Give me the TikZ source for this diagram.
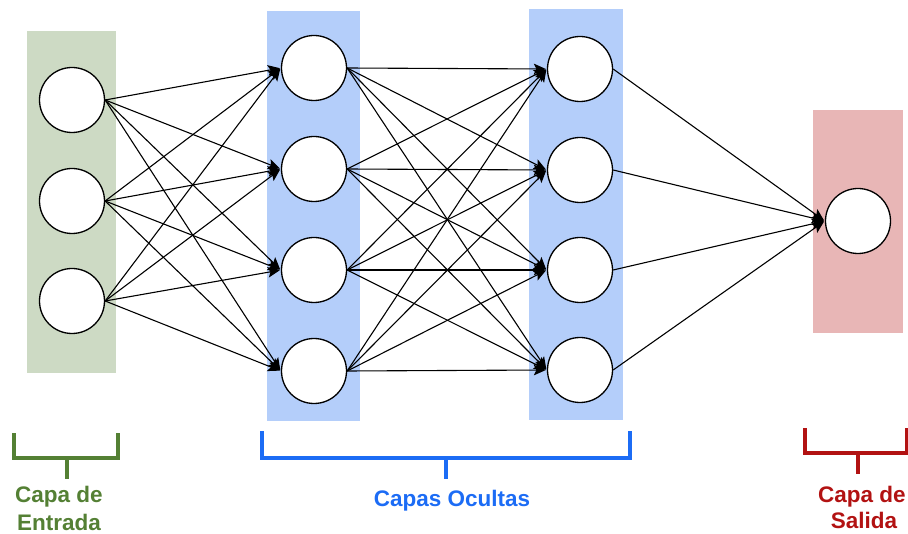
\documentclass[tikz,border=0pt]{standalone}
\usepackage{fontspec}
\setmainfont{Liberation Sans}
\usetikzlibrary{arrows.meta}
\definecolor{ingreen}{RGB}{205,218,196}
\definecolor{hidblue}{RGB}{180,206,250}
\definecolor{outred}{RGB}{232,182,182}
\definecolor{brgreen}{RGB}{84,128,52}
\definecolor{brblue}{RGB}{28,108,245}
\definecolor{brred}{RGB}{178,18,18}
\tikzset{
  neuron/.style={circle,draw=black,fill=white,line width=1.3pt,minimum size=65pt,inner sep=0pt},
  conn/.style={line width=1.1pt,shorten >=1pt,-{Stealth[length=12pt,width=10.5pt,inset=2.5pt]}},
  bracket/.style={line width=3.5pt,line cap=rect},
  lbl/.style={font=\fontsize{22.5}{26}\selectfont\bfseries,anchor=base,inner sep=0pt}
}
\begin{document}
\begin{tikzpicture}[x=1pt,y=-1pt]
\useasboundingbox (0,0) rectangle (908,534);
% layer backgrounds
\fill[ingreen] (27,31) rectangle (116,373);
\fill[hidblue] (267,11) rectangle (360,421);
\fill[hidblue] (529,9) rectangle (623,420);
\fill[outred] (813,110) rectangle (903,333);
% neurons
\node[neuron] (i1) at (72,100) {};
\node[neuron] (i2) at (72,201) {};
\node[neuron] (i3) at (72,301) {};
\node[neuron] (h1) at (314,68) {};
\node[neuron] (h2) at (314,169) {};
\node[neuron] (h3) at (314,270) {};
\node[neuron] (h4) at (314,371) {};
\node[neuron] (g1) at (580,69) {};
\node[neuron] (g2) at (580,170) {};
\node[neuron] (g3) at (580,270) {};
\node[neuron] (g4) at (580,370) {};
\node[neuron] (o1) at (858,221) {};
% connections
\foreach \a in {i1,i2,i3}{\foreach \b in {h1,h2,h3,h4}{\draw[conn] (\a.east) -- (\b.west);}}
\foreach \a in {h1,h2,h3,h4}{\foreach \b in {g1,g2,g3,g4}{\draw[conn] (\a.east) -- (\b.west);}}
\foreach \a in {g1,g2,g3,g4}{\draw[conn] (\a.east) -- (o1.west);}
% brackets
\draw[bracket,brgreen] (14,435) -- (14,458) -- (118,458) -- (118,435);
\draw[bracket,brgreen] (67,458) -- (67,477);
\draw[bracket,brblue] (262,433) -- (262,458) -- (630,458) -- (630,433);
\draw[bracket,brblue] (446,458) -- (446,477);
\draw[bracket,brred] (805,430) -- (805,453) -- (907,453) -- (907,430);
\draw[bracket,brred] (858,453) -- (858,472);
% labels
\node[lbl,text=brgreen] (t1) at (59,502) {Capa de};
\node[lbl,text=brgreen] (t2) at (59,530) {Entrada};
\node[lbl,text=brblue] (t3) at (452,507) {Capas Ocultas};
\node[lbl,text=brred] (t4) at (862,502) {Capa de};
\node[lbl,text=brred] (t5) at (864,528) {Salida};
\end{tikzpicture}
\end{document}
